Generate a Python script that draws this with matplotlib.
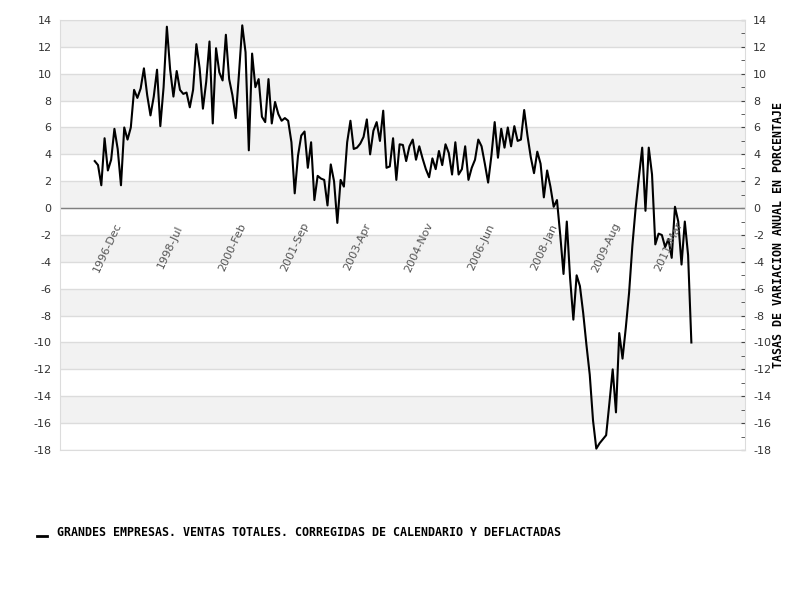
import numpy as np
import matplotlib
matplotlib.use("Agg")
import matplotlib.pyplot as plt
from matplotlib.lines import Line2D
from matplotlib.ticker import FuncFormatter

# monthly series, 1996-Aug .. 2011-Oct
values = [
    3.5, 3.2, 1.7, 5.2, 2.8, 3.6, 5.9, 4.4, 1.7, 6.0,
    5.1, 6.0, 8.8, 8.2, 8.9, 10.4, 8.4, 6.9, 8.3, 10.3,
    6.1, 9.0, 13.5, 10.3, 8.3, 10.2, 8.8, 8.5, 8.6, 7.5,
    8.8, 12.2, 10.4, 7.4, 9.4, 12.4, 6.3, 11.9, 10.1, 9.5,
    12.9, 9.6, 8.4, 6.7, 10.0, 13.6, 11.6, 4.3, 11.5, 9.0,
    9.6, 6.8, 6.4, 9.6, 6.3, 7.9, 7.0, 6.5, 6.7, 6.5,
    4.9, 1.1, 3.9, 5.4, 5.7, 3.0, 4.9, 0.6, 2.4, 2.2,
    2.1, 0.2, 3.25, 2.0, -1.1, 2.1, 1.6, 4.9, 6.5, 4.4,
    4.5, 4.8, 5.3, 6.6, 4.0, 5.75, 6.4, 5.0, 7.25, 3.0,
    3.1, 5.2, 2.1, 4.75, 4.7, 3.5, 4.6, 5.1, 3.6, 4.6,
    3.7, 2.9, 2.3, 3.7, 2.9, 4.25, 3.2, 4.75, 4.1, 2.5,
    4.9, 2.5, 2.9, 4.6, 2.1, 3.0, 3.6, 5.1, 4.6, 3.3,
    1.9, 3.9, 6.4, 3.75, 5.9, 4.5, 6.0, 4.6, 6.1, 5.0,
    5.1, 7.3, 5.4, 3.8, 2.6, 4.2, 3.3, 0.8, 2.8, 1.6,
    0.1, 0.6, -2.0, -4.9, -1.0, -5.2, -8.3, -5.0, -5.8, -7.8,
    -10.2, -12.4, -15.8, -17.9, -17.5, -17.2, -16.9, -14.5, -12.0, -15.2,
    -9.3, -11.2, -8.9, -6.3, -2.8, 0.0, 2.3, 4.5, -0.2, 4.5,
    2.5, -2.7, -1.9, -2.0, -2.9, -2.3, -3.7, 0.1, -1.0, -4.2,
    -1.0, -3.5, -10.0,
]
tick_pos = [4, 23, 42, 61, 80, 99, 118, 137, 156, 175]
tick_labels = ["1996-Dec", "1998-Jul", "2000-Feb", "2001-Sep", "2003-Apr",
               "2004-Nov", "2006-Jun", "2008-Jan", "2009-Aug", "2011-Mar"]
series_name = "GRANDES EMPRESAS. VENTAS TOTALES. CORREGIDAS DE CALENDARIO Y DEFLACTADAS"
y_title = "TASAS DE VARIACION ANUAL EN PORCENTAJE"

fig = plt.figure(figsize=(8, 6), dpi=100)
ax = fig.add_axes([0.075, 0.25, 0.856, 0.7167])

ymin, ymax = -18, 14
# alternating bands
for k, lo in enumerate(range(ymax - 2, ymin - 1, -2)):
    if k % 2 == 0:
        ax.axhspan(lo, lo + 2, color="#f2f2f2", lw=0, zorder=0)
for v in range(ymin, ymax + 1, 2):
    ax.axhline(v, color="#dcdcdc", lw=1, zorder=1)
ax.axhline(0, color="#808080", lw=1, zorder=2)

x = np.arange(len(values))
ax.plot(x, values, color="black", lw=1.5, zorder=3)

for p, lab in zip(tick_pos, tick_labels):
    ax.text(p, -2.9, lab, rotation=65, ha="center", va="center",
            fontsize=8, color="#555555", zorder=4)

ax.set_xlim(-10.6, 198.3)
ax.set_ylim(ymin, ymax)
ax.set_xticks([])
ax.set_yticks(range(ymin, ymax + 1, 2))
ax.set_yticks(range(ymin + 1, ymax, 2), minor=True)
ax.yaxis.set_major_formatter(FuncFormatter(lambda v, p: "%d" % v))
ax.tick_params(axis="y", which="both", left=False, right=True, labelleft=True,
               labelright=True, direction="in", length=3, color="#444444",
               labelsize=8, labelcolor="#333333", pad=6)
for s in ax.spines.values():
    s.set_color("#dcdcdc")

fig.text(0.973, 0.608, y_title, rotation=90, ha="center", va="center",
         fontsize=8.4, family="DejaVu Sans Mono", weight="bold", color="black")

fig.add_artist(Line2D([0.046, 0.059], [0.106, 0.106], color="black", lw=2))
fig.text(0.071, 0.112, series_name, ha="left", va="center",
         fontsize=8.4, family="DejaVu Sans Mono", weight="bold", color="black")

fig.savefig("out.png", dpi=100)
